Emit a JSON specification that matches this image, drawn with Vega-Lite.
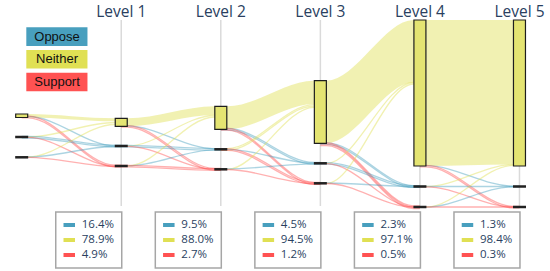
{
  "$schema": "https://vega.github.io/schema/vega-lite/v6.json",
  "width": 550,
  "height": 271,
  "padding": 0,
  "autosize": {"type": "none"},
  "background": "white",
  "config": {"view": {"stroke": null}},
  "datasets": {
    "levels": [
      {"level": 1, "label": "Level 1"},
      {"level": 2, "label": "Level 2"},
      {"level": 3, "label": "Level 3"},
      {"level": 4, "label": "Level 4"},
      {"level": 5, "label": "Level 5"}
    ],
    "bands": [
      {"t": 0, "x": 0, "y0": 114, "y1": 117.5}, {"t": 0, "x": 0.064, "y0": 114, "y1": 117.5}, {"t": 0, "x": 0.936, "y0": 118.3, "y1": 121.3}, {"t": 0, "x": 1, "y0": 118.3, "y1": 121.3},
      {"t": 1, "x": 1, "y0": 118.3, "y1": 126.3}, {"t": 1, "x": 1.064, "y0": 118.3, "y1": 126.3}, {"t": 1, "x": 1.936, "y0": 106.3, "y1": 115}, {"t": 1, "x": 2, "y0": 106.3, "y1": 115},
      {"t": 2, "x": 2, "y0": 106.3, "y1": 129.3}, {"t": 2, "x": 2.064, "y0": 106.3, "y1": 129.3}, {"t": 2, "x": 2.936, "y0": 80.7, "y1": 104}, {"t": 2, "x": 3, "y0": 80.7, "y1": 104},
      {"t": 3, "x": 3, "y0": 80.7, "y1": 143.3}, {"t": 3, "x": 3.064, "y0": 80.7, "y1": 143.3}, {"t": 3, "x": 3.936, "y0": 20, "y1": 82.6}, {"t": 3, "x": 4, "y0": 20, "y1": 82.6},
      {"t": 4, "x": 4, "y0": 20, "y1": 166}, {"t": 4, "x": 4.064, "y0": 20, "y1": 166}, {"t": 4, "x": 4.936, "y0": 20, "y1": 164.5}, {"t": 4, "x": 5, "y0": 20, "y1": 164.5}
    ],
    "links": [
      {"id": "l01", "cat": "Oppose", "i": 0, "x": 0, "y": 116.5}, {"id": "l01", "cat": "Oppose", "i": 1, "x": 0.064, "y": 116.5}, {"id": "l01", "cat": "Oppose", "i": 2, "x": 0.936, "y": 145.8}, {"id": "l01", "cat": "Oppose", "i": 3, "x": 1, "y": 145.8},
      {"id": "l02", "cat": "Support", "i": 0, "x": 0, "y": 116.2}, {"id": "l02", "cat": "Support", "i": 1, "x": 0.064, "y": 116.2}, {"id": "l02", "cat": "Support", "i": 2, "x": 0.936, "y": 165.2}, {"id": "l02", "cat": "Support", "i": 3, "x": 1, "y": 165.2},
      {"id": "l03", "cat": "Support", "i": 0, "x": 0, "y": 117.8}, {"id": "l03", "cat": "Support", "i": 1, "x": 0.064, "y": 117.8}, {"id": "l03", "cat": "Support", "i": 2, "x": 0.936, "y": 166.8}, {"id": "l03", "cat": "Support", "i": 3, "x": 1, "y": 166.8},
      {"id": "l04", "cat": "Neither", "i": 0, "x": 0, "y": 137}, {"id": "l04", "cat": "Neither", "i": 1, "x": 0.064, "y": 137}, {"id": "l04", "cat": "Neither", "i": 2, "x": 0.936, "y": 122.5}, {"id": "l04", "cat": "Neither", "i": 3, "x": 1, "y": 122.5},
      {"id": "l05", "cat": "Oppose", "i": 0, "x": 0, "y": 136.4}, {"id": "l05", "cat": "Oppose", "i": 1, "x": 0.064, "y": 136.4}, {"id": "l05", "cat": "Oppose", "i": 2, "x": 0.936, "y": 145.2}, {"id": "l05", "cat": "Oppose", "i": 3, "x": 1, "y": 145.2},
      {"id": "l06", "cat": "Oppose", "i": 0, "x": 0, "y": 138}, {"id": "l06", "cat": "Oppose", "i": 1, "x": 0.064, "y": 138}, {"id": "l06", "cat": "Oppose", "i": 2, "x": 0.936, "y": 146.8}, {"id": "l06", "cat": "Oppose", "i": 3, "x": 1, "y": 146.8},
      {"id": "l07", "cat": "Support", "i": 0, "x": 0, "y": 137.4}, {"id": "l07", "cat": "Support", "i": 1, "x": 0.064, "y": 137.4}, {"id": "l07", "cat": "Support", "i": 2, "x": 0.936, "y": 166}, {"id": "l07", "cat": "Support", "i": 3, "x": 1, "y": 166},
      {"id": "l08", "cat": "Neither", "i": 0, "x": 0, "y": 157}, {"id": "l08", "cat": "Neither", "i": 1, "x": 0.064, "y": 157}, {"id": "l08", "cat": "Neither", "i": 2, "x": 0.936, "y": 124.5}, {"id": "l08", "cat": "Neither", "i": 3, "x": 1, "y": 124.5},
      {"id": "l09", "cat": "Oppose", "i": 0, "x": 0, "y": 157}, {"id": "l09", "cat": "Oppose", "i": 1, "x": 0.064, "y": 157}, {"id": "l09", "cat": "Oppose", "i": 2, "x": 0.936, "y": 146.5}, {"id": "l09", "cat": "Oppose", "i": 3, "x": 1, "y": 146.5},
      {"id": "l10", "cat": "Support", "i": 0, "x": 0, "y": 157.3}, {"id": "l10", "cat": "Support", "i": 1, "x": 0.064, "y": 157.3}, {"id": "l10", "cat": "Support", "i": 2, "x": 0.936, "y": 166.5}, {"id": "l10", "cat": "Support", "i": 3, "x": 1, "y": 166.5},

      {"id": "l11", "cat": "Oppose", "i": 0, "x": 1, "y": 126}, {"id": "l11", "cat": "Oppose", "i": 1, "x": 1.064, "y": 126}, {"id": "l11", "cat": "Oppose", "i": 2, "x": 1.936, "y": 148.8}, {"id": "l11", "cat": "Oppose", "i": 3, "x": 2, "y": 148.8},
      {"id": "l12", "cat": "Support", "i": 0, "x": 1, "y": 125.6}, {"id": "l12", "cat": "Support", "i": 1, "x": 1.064, "y": 125.6}, {"id": "l12", "cat": "Support", "i": 2, "x": 1.936, "y": 168.5}, {"id": "l12", "cat": "Support", "i": 3, "x": 2, "y": 168.5},
      {"id": "l13", "cat": "Support", "i": 0, "x": 1, "y": 127.2}, {"id": "l13", "cat": "Support", "i": 1, "x": 1.064, "y": 127.2}, {"id": "l13", "cat": "Support", "i": 2, "x": 1.936, "y": 170.1}, {"id": "l13", "cat": "Support", "i": 3, "x": 2, "y": 170.1},
      {"id": "l14", "cat": "Neither", "i": 0, "x": 1, "y": 146}, {"id": "l14", "cat": "Neither", "i": 1, "x": 1.064, "y": 146}, {"id": "l14", "cat": "Neither", "i": 2, "x": 1.936, "y": 115.5}, {"id": "l14", "cat": "Neither", "i": 3, "x": 2, "y": 115.5},
      {"id": "l15", "cat": "Oppose", "i": 0, "x": 1, "y": 145.3}, {"id": "l15", "cat": "Oppose", "i": 1, "x": 1.064, "y": 145.3}, {"id": "l15", "cat": "Oppose", "i": 2, "x": 1.936, "y": 148.6}, {"id": "l15", "cat": "Oppose", "i": 3, "x": 2, "y": 148.6},
      {"id": "l16", "cat": "Oppose", "i": 0, "x": 1, "y": 146.9}, {"id": "l16", "cat": "Oppose", "i": 1, "x": 1.064, "y": 146.9}, {"id": "l16", "cat": "Oppose", "i": 2, "x": 1.936, "y": 150.2}, {"id": "l16", "cat": "Oppose", "i": 3, "x": 2, "y": 150.2},
      {"id": "l17", "cat": "Support", "i": 0, "x": 1, "y": 146.4}, {"id": "l17", "cat": "Support", "i": 1, "x": 1.064, "y": 146.4}, {"id": "l17", "cat": "Support", "i": 2, "x": 1.936, "y": 169.2}, {"id": "l17", "cat": "Support", "i": 3, "x": 2, "y": 169.2},
      {"id": "l18", "cat": "Neither", "i": 0, "x": 1, "y": 166}, {"id": "l18", "cat": "Neither", "i": 1, "x": 1.064, "y": 166}, {"id": "l18", "cat": "Neither", "i": 2, "x": 1.936, "y": 117}, {"id": "l18", "cat": "Neither", "i": 3, "x": 2, "y": 117},
      {"id": "l19", "cat": "Oppose", "i": 0, "x": 1, "y": 165.8}, {"id": "l19", "cat": "Oppose", "i": 1, "x": 1.064, "y": 165.8}, {"id": "l19", "cat": "Oppose", "i": 2, "x": 1.936, "y": 149.8}, {"id": "l19", "cat": "Oppose", "i": 3, "x": 2, "y": 149.8},
      {"id": "l20", "cat": "Support", "i": 0, "x": 1, "y": 165.3}, {"id": "l20", "cat": "Support", "i": 1, "x": 1.064, "y": 165.3}, {"id": "l20", "cat": "Support", "i": 2, "x": 1.936, "y": 168.7}, {"id": "l20", "cat": "Support", "i": 3, "x": 2, "y": 168.7},
      {"id": "l21", "cat": "Support", "i": 0, "x": 1, "y": 166.9}, {"id": "l21", "cat": "Support", "i": 1, "x": 1.064, "y": 166.9}, {"id": "l21", "cat": "Support", "i": 2, "x": 1.936, "y": 170.3}, {"id": "l21", "cat": "Support", "i": 3, "x": 2, "y": 170.3},

      {"id": "l22", "cat": "Oppose", "i": 0, "x": 2, "y": 128.5}, {"id": "l22", "cat": "Oppose", "i": 1, "x": 2.064, "y": 128.5}, {"id": "l22", "cat": "Oppose", "i": 2, "x": 2.936, "y": 162.5}, {"id": "l22", "cat": "Oppose", "i": 3, "x": 3, "y": 162.5},
      {"id": "l23", "cat": "Oppose", "i": 0, "x": 2, "y": 130.1}, {"id": "l23", "cat": "Oppose", "i": 1, "x": 2.064, "y": 130.1}, {"id": "l23", "cat": "Oppose", "i": 2, "x": 2.936, "y": 164.1}, {"id": "l23", "cat": "Oppose", "i": 3, "x": 3, "y": 164.1},
      {"id": "l24", "cat": "Support", "i": 0, "x": 2, "y": 128.5}, {"id": "l24", "cat": "Support", "i": 1, "x": 2.064, "y": 128.5}, {"id": "l24", "cat": "Support", "i": 2, "x": 2.936, "y": 182.5}, {"id": "l24", "cat": "Support", "i": 3, "x": 3, "y": 182.5},
      {"id": "l25", "cat": "Support", "i": 0, "x": 2, "y": 130.1}, {"id": "l25", "cat": "Support", "i": 1, "x": 2.064, "y": 130.1}, {"id": "l25", "cat": "Support", "i": 2, "x": 2.936, "y": 184.1}, {"id": "l25", "cat": "Support", "i": 3, "x": 3, "y": 184.1},
      {"id": "l26", "cat": "Neither", "i": 0, "x": 2, "y": 148.6}, {"id": "l26", "cat": "Neither", "i": 1, "x": 2.064, "y": 148.6}, {"id": "l26", "cat": "Neither", "i": 2, "x": 2.936, "y": 104.6}, {"id": "l26", "cat": "Neither", "i": 3, "x": 3, "y": 104.6},
      {"id": "l27", "cat": "Neither", "i": 0, "x": 2, "y": 150.2}, {"id": "l27", "cat": "Neither", "i": 1, "x": 2.064, "y": 150.2}, {"id": "l27", "cat": "Neither", "i": 2, "x": 2.936, "y": 106.2}, {"id": "l27", "cat": "Neither", "i": 3, "x": 3, "y": 106.2},
      {"id": "l28", "cat": "Oppose", "i": 0, "x": 2, "y": 149.3}, {"id": "l28", "cat": "Oppose", "i": 1, "x": 2.064, "y": 149.3}, {"id": "l28", "cat": "Oppose", "i": 2, "x": 2.936, "y": 163.2}, {"id": "l28", "cat": "Oppose", "i": 3, "x": 3, "y": 163.2},
      {"id": "l29", "cat": "Support", "i": 0, "x": 2, "y": 148.8}, {"id": "l29", "cat": "Support", "i": 1, "x": 2.064, "y": 148.8}, {"id": "l29", "cat": "Support", "i": 2, "x": 2.936, "y": 182.7}, {"id": "l29", "cat": "Support", "i": 3, "x": 3, "y": 182.7},
      {"id": "l30", "cat": "Support", "i": 0, "x": 2, "y": 150.4}, {"id": "l30", "cat": "Support", "i": 1, "x": 2.064, "y": 150.4}, {"id": "l30", "cat": "Support", "i": 2, "x": 2.936, "y": 184.3}, {"id": "l30", "cat": "Support", "i": 3, "x": 3, "y": 184.3},
      {"id": "l31", "cat": "Neither", "i": 0, "x": 2, "y": 169.3}, {"id": "l31", "cat": "Neither", "i": 1, "x": 2.064, "y": 169.3}, {"id": "l31", "cat": "Neither", "i": 2, "x": 2.936, "y": 107.4}, {"id": "l31", "cat": "Neither", "i": 3, "x": 3, "y": 107.4},
      {"id": "l32", "cat": "Oppose", "i": 0, "x": 2, "y": 169}, {"id": "l32", "cat": "Oppose", "i": 1, "x": 2.064, "y": 169}, {"id": "l32", "cat": "Oppose", "i": 2, "x": 2.936, "y": 163.8}, {"id": "l32", "cat": "Oppose", "i": 3, "x": 3, "y": 163.8},
      {"id": "l33", "cat": "Support", "i": 0, "x": 2, "y": 169.5}, {"id": "l33", "cat": "Support", "i": 1, "x": 2.064, "y": 169.5}, {"id": "l33", "cat": "Support", "i": 2, "x": 2.936, "y": 183.6}, {"id": "l33", "cat": "Support", "i": 3, "x": 3, "y": 183.6},

      {"id": "l34", "cat": "Oppose", "i": 0, "x": 3, "y": 142.8}, {"id": "l34", "cat": "Oppose", "i": 1, "x": 3.064, "y": 142.8}, {"id": "l34", "cat": "Oppose", "i": 2, "x": 3.936, "y": 185.7}, {"id": "l34", "cat": "Oppose", "i": 3, "x": 4, "y": 185.7},
      {"id": "l35", "cat": "Oppose", "i": 0, "x": 3, "y": 144.4}, {"id": "l35", "cat": "Oppose", "i": 1, "x": 3.064, "y": 144.4}, {"id": "l35", "cat": "Oppose", "i": 2, "x": 3.936, "y": 187.3}, {"id": "l35", "cat": "Oppose", "i": 3, "x": 4, "y": 187.3},
      {"id": "l36", "cat": "Support", "i": 0, "x": 3, "y": 142.8}, {"id": "l36", "cat": "Support", "i": 1, "x": 3.064, "y": 142.8}, {"id": "l36", "cat": "Support", "i": 2, "x": 3.936, "y": 205.8}, {"id": "l36", "cat": "Support", "i": 3, "x": 4, "y": 205.8},
      {"id": "l37", "cat": "Support", "i": 0, "x": 3, "y": 144.2}, {"id": "l37", "cat": "Support", "i": 1, "x": 3.064, "y": 144.2}, {"id": "l37", "cat": "Support", "i": 2, "x": 3.936, "y": 207.2}, {"id": "l37", "cat": "Support", "i": 3, "x": 4, "y": 207.2},
      {"id": "l38", "cat": "Support", "i": 0, "x": 3, "y": 145.6}, {"id": "l38", "cat": "Support", "i": 1, "x": 3.064, "y": 145.6}, {"id": "l38", "cat": "Support", "i": 2, "x": 3.936, "y": 208.6}, {"id": "l38", "cat": "Support", "i": 3, "x": 4, "y": 208.6},
      {"id": "l39", "cat": "Neither", "i": 0, "x": 3, "y": 163.3}, {"id": "l39", "cat": "Neither", "i": 1, "x": 3.064, "y": 163.3}, {"id": "l39", "cat": "Neither", "i": 2, "x": 3.936, "y": 82.5}, {"id": "l39", "cat": "Neither", "i": 3, "x": 4, "y": 82.5},
      {"id": "l40", "cat": "Oppose", "i": 0, "x": 3, "y": 162.6}, {"id": "l40", "cat": "Oppose", "i": 1, "x": 3.064, "y": 162.6}, {"id": "l40", "cat": "Oppose", "i": 2, "x": 3.936, "y": 185.8}, {"id": "l40", "cat": "Oppose", "i": 3, "x": 4, "y": 185.8},
      {"id": "l41", "cat": "Oppose", "i": 0, "x": 3, "y": 164.2}, {"id": "l41", "cat": "Oppose", "i": 1, "x": 3.064, "y": 164.2}, {"id": "l41", "cat": "Oppose", "i": 2, "x": 3.936, "y": 187.4}, {"id": "l41", "cat": "Oppose", "i": 3, "x": 4, "y": 187.4},
      {"id": "l42", "cat": "Support", "i": 0, "x": 3, "y": 163.6}, {"id": "l42", "cat": "Support", "i": 1, "x": 3.064, "y": 163.6}, {"id": "l42", "cat": "Support", "i": 2, "x": 3.936, "y": 207}, {"id": "l42", "cat": "Support", "i": 3, "x": 4, "y": 207},
      {"id": "l43", "cat": "Neither", "i": 0, "x": 3, "y": 183.3}, {"id": "l43", "cat": "Neither", "i": 1, "x": 3.064, "y": 183.3}, {"id": "l43", "cat": "Neither", "i": 2, "x": 3.936, "y": 84}, {"id": "l43", "cat": "Neither", "i": 3, "x": 4, "y": 84},
      {"id": "l44", "cat": "Oppose", "i": 0, "x": 3, "y": 183}, {"id": "l44", "cat": "Oppose", "i": 1, "x": 3.064, "y": 183}, {"id": "l44", "cat": "Oppose", "i": 2, "x": 3.936, "y": 186.5}, {"id": "l44", "cat": "Oppose", "i": 3, "x": 4, "y": 186.5},
      {"id": "l45", "cat": "Support", "i": 0, "x": 3, "y": 183.5}, {"id": "l45", "cat": "Support", "i": 1, "x": 3.064, "y": 183.5}, {"id": "l45", "cat": "Support", "i": 2, "x": 3.936, "y": 207.2}, {"id": "l45", "cat": "Support", "i": 3, "x": 4, "y": 207.2},

      {"id": "l46", "cat": "Oppose", "i": 0, "x": 4, "y": 165.6}, {"id": "l46", "cat": "Oppose", "i": 1, "x": 4.064, "y": 165.6}, {"id": "l46", "cat": "Oppose", "i": 2, "x": 4.936, "y": 186.2}, {"id": "l46", "cat": "Oppose", "i": 3, "x": 5, "y": 186.2},
      {"id": "l47", "cat": "Support", "i": 0, "x": 4, "y": 165.3}, {"id": "l47", "cat": "Support", "i": 1, "x": 4.064, "y": 165.3}, {"id": "l47", "cat": "Support", "i": 2, "x": 4.936, "y": 206.3}, {"id": "l47", "cat": "Support", "i": 3, "x": 5, "y": 206.3},
      {"id": "l48", "cat": "Support", "i": 0, "x": 4, "y": 166.9}, {"id": "l48", "cat": "Support", "i": 1, "x": 4.064, "y": 166.9}, {"id": "l48", "cat": "Support", "i": 2, "x": 4.936, "y": 207.9}, {"id": "l48", "cat": "Support", "i": 3, "x": 5, "y": 207.9},
      {"id": "l49", "cat": "Neither", "i": 0, "x": 4, "y": 186.5}, {"id": "l49", "cat": "Neither", "i": 1, "x": 4.064, "y": 186.5}, {"id": "l49", "cat": "Neither", "i": 2, "x": 4.936, "y": 164.6}, {"id": "l49", "cat": "Neither", "i": 3, "x": 5, "y": 164.6},
      {"id": "l50", "cat": "Oppose", "i": 0, "x": 4, "y": 186.5}, {"id": "l50", "cat": "Oppose", "i": 1, "x": 4.064, "y": 186.5}, {"id": "l50", "cat": "Oppose", "i": 2, "x": 4.936, "y": 186.5}, {"id": "l50", "cat": "Oppose", "i": 3, "x": 5, "y": 186.5},
      {"id": "l51", "cat": "Support", "i": 0, "x": 4, "y": 186.8}, {"id": "l51", "cat": "Support", "i": 1, "x": 4.064, "y": 186.8}, {"id": "l51", "cat": "Support", "i": 2, "x": 4.936, "y": 207}, {"id": "l51", "cat": "Support", "i": 3, "x": 5, "y": 207},
      {"id": "l52", "cat": "Neither", "i": 0, "x": 4, "y": 207}, {"id": "l52", "cat": "Neither", "i": 1, "x": 4.064, "y": 207}, {"id": "l52", "cat": "Neither", "i": 2, "x": 4.936, "y": 165.4}, {"id": "l52", "cat": "Neither", "i": 3, "x": 5, "y": 165.4},
      {"id": "l53", "cat": "Oppose", "i": 0, "x": 4, "y": 207}, {"id": "l53", "cat": "Oppose", "i": 1, "x": 4.064, "y": 207}, {"id": "l53", "cat": "Oppose", "i": 2, "x": 4.936, "y": 186.8}, {"id": "l53", "cat": "Oppose", "i": 3, "x": 5, "y": 186.8},
      {"id": "l54", "cat": "Support", "i": 0, "x": 4, "y": 207}, {"id": "l54", "cat": "Support", "i": 1, "x": 4.064, "y": 207}, {"id": "l54", "cat": "Support", "i": 2, "x": 4.936, "y": 207}, {"id": "l54", "cat": "Support", "i": 3, "x": 5, "y": 207}
    ],
    "nodesN": [
      {"level": 0, "y0": 114, "y1": 117.5},
      {"level": 1, "y0": 118.3, "y1": 126.3},
      {"level": 2, "y0": 106.3, "y1": 129.3},
      {"level": 3, "y0": 80.7, "y1": 143.3},
      {"level": 4, "y0": 20, "y1": 166},
      {"level": 5, "y0": 20, "y1": 166}
    ],
    "nodesOS": [
      {"level": 0, "cat": "Oppose", "y": 137}, {"level": 0, "cat": "Support", "y": 157.3},
      {"level": 1, "cat": "Oppose", "y": 146}, {"level": 1, "cat": "Support", "y": 166},
      {"level": 2, "cat": "Oppose", "y": 149.3}, {"level": 2, "cat": "Support", "y": 169.3},
      {"level": 3, "cat": "Oppose", "y": 163.3}, {"level": 3, "cat": "Support", "y": 183.3},
      {"level": 4, "cat": "Oppose", "y": 186.5}, {"level": 4, "cat": "Support", "y": 207},
      {"level": 5, "cat": "Oppose", "y": 186.5}, {"level": 5, "cat": "Support", "y": 207}
    ],
    "shares": [
      {"level": 1, "cat": "Oppose", "pct": 0.164}, {"level": 1, "cat": "Neither", "pct": 0.789}, {"level": 1, "cat": "Support", "pct": 0.049},
      {"level": 2, "cat": "Oppose", "pct": 0.095}, {"level": 2, "cat": "Neither", "pct": 0.880}, {"level": 2, "cat": "Support", "pct": 0.027},
      {"level": 3, "cat": "Oppose", "pct": 0.045}, {"level": 3, "cat": "Neither", "pct": 0.945}, {"level": 3, "cat": "Support", "pct": 0.012},
      {"level": 4, "cat": "Oppose", "pct": 0.023}, {"level": 4, "cat": "Neither", "pct": 0.971}, {"level": 4, "cat": "Support", "pct": 0.005},
      {"level": 5, "cat": "Oppose", "pct": 0.013}, {"level": 5, "cat": "Neither", "pct": 0.984}, {"level": 5, "cat": "Support", "pct": 0.003}
    ],
    "legend": [{"cat": "Oppose"}, {"cat": "Neither"}, {"cat": "Support"}]
  },
  "layer": [
    {
      "layer": [
        {
          "data": {"name": "levels"},
          "mark": {"type": "rule", "color": "#dadada", "strokeWidth": 1.5},
          "encoding": {
            "x": {"field": "level", "type": "quantitative", "scale": {"domain": [-0.16765, 5.2564], "nice": false, "zero": false}, "axis": null},
            "y": {"datum": 20, "type": "quantitative", "scale": {"domain": [0, 271], "reverse": true, "nice": false, "zero": false}, "axis": null},
            "y2": {"datum": 206}
          }
        },
        {
          "data": {"name": "bands"},
          "mark": {"type": "area", "interpolate": "monotone", "color": "#e0e054", "opacity": 0.45},
          "encoding": {
            "x": {"field": "x", "type": "quantitative", "scale": {"domain": [-0.16765, 5.2564], "nice": false, "zero": false}, "axis": null},
            "y": {"field": "y0", "type": "quantitative", "scale": {"domain": [0, 271], "reverse": true, "nice": false, "zero": false}, "axis": null},
            "y2": {"field": "y1"},
            "detail": {"field": "t", "type": "nominal"}
          }
        },
        {
          "data": {"name": "links"},
          "mark": {"type": "line", "interpolate": "monotone", "strokeWidth": 1.3, "opacity": 0.45},
          "encoding": {
            "x": {"field": "x", "type": "quantitative", "scale": {"domain": [-0.16765, 5.2564], "nice": false, "zero": false}, "axis": null},
            "y": {"field": "y", "type": "quantitative", "scale": {"domain": [0, 271], "reverse": true, "nice": false, "zero": false}, "axis": null},
            "color": {"field": "cat", "type": "nominal", "scale": {"domain": ["Oppose", "Neither", "Support"], "range": ["#489fbe", "#e0e054", "#ff5252"]}, "legend": null},
            "detail": {"field": "id", "type": "nominal"},
            "order": {"field": "i", "type": "quantitative"}
          }
        },
        {
          "data": {"name": "nodesN"},
          "mark": {"type": "bar", "orient": "vertical", "size": 12, "fill": "#e4e472", "stroke": "#1e1e1e", "strokeWidth": 1.2, "opacity": 1},
          "encoding": {
            "x": {"field": "level", "type": "quantitative", "scale": {"domain": [-0.16765, 5.2564], "nice": false, "zero": false}, "axis": null},
            "y": {"field": "y0", "type": "quantitative", "scale": {"domain": [0, 271], "reverse": true, "nice": false, "zero": false}, "axis": null},
            "y2": {"field": "y1"}
          }
        },
        {
          "data": {"name": "nodesOS"},
          "mark": {"type": "tick", "orient": "horizontal", "size": 13, "thickness": 2.5, "color": "#222222", "opacity": 1},
          "encoding": {
            "x": {"field": "level", "type": "quantitative", "scale": {"domain": [-0.16765, 5.2564], "nice": false, "zero": false}, "axis": null},
            "y": {"field": "y", "type": "quantitative", "scale": {"domain": [0, 271], "reverse": true, "nice": false, "zero": false}, "axis": null}
          }
        },
        {
          "data": {"name": "levels"},
          "mark": {"type": "rect", "xOffset": -65.5, "x2Offset": 0.5, "fill": "white", "stroke": "#a6a6a6", "strokeWidth": 1.5},
          "encoding": {
            "x": {"field": "level", "type": "quantitative", "scale": {"domain": [-0.16765, 5.2564], "nice": false, "zero": false}, "axis": null},
            "x2": {"field": "level"},
            "y": {"datum": 212, "type": "quantitative", "scale": {"domain": [0, 271], "reverse": true, "nice": false, "zero": false}, "axis": null},
            "y2": {"datum": 268}
          }
        },
        {
          "data": {"name": "levels"},
          "mark": {"type": "text", "font": "Open Sans", "fontSize": 15.5, "color": "#2a3f5f", "align": "center", "baseline": "alphabetic"},
          "encoding": {
            "x": {"field": "level", "type": "quantitative", "scale": {"domain": [-0.16765, 5.2564], "nice": false, "zero": false}, "axis": null},
            "y": {"datum": 17, "type": "quantitative", "scale": {"domain": [0, 271], "reverse": true, "nice": false, "zero": false}, "axis": null},
            "text": {"field": "label"}
          }
        }
      ]
    },
    {
      "layer": [
        {
          "data": {"name": "shares"},
          "mark": {"type": "tick", "orient": "horizontal", "size": 11.5, "thickness": 4, "xOffset": -52, "opacity": 1},
          "encoding": {
            "x": {"field": "level", "type": "quantitative", "scale": {"domain": [-0.16765, 5.2564], "nice": false, "zero": false}, "axis": null},
            "y": {"field": "cat", "type": "nominal", "scale": {"type": "point", "domain": ["Oppose", "Neither", "Support"], "range": [225, 255], "padding": 0}, "axis": null},
            "color": {"field": "cat", "type": "nominal", "scale": {"domain": ["Oppose", "Neither", "Support"], "range": ["#489fbe", "#e0e054", "#ff5252"]}, "legend": null}
          }
        },
        {
          "data": {"name": "shares"},
          "mark": {"type": "text", "align": "left", "baseline": "middle", "xOffset": -39.5, "font": "Open Sans", "fontSize": 11.5, "color": "#2a3f5f"},
          "encoding": {
            "x": {"field": "level", "type": "quantitative", "scale": {"domain": [-0.16765, 5.2564], "nice": false, "zero": false}, "axis": null},
            "y": {"field": "cat", "type": "nominal", "scale": {"type": "point", "domain": ["Oppose", "Neither", "Support"], "range": [225, 255], "padding": 0}, "axis": null},
            "text": {"field": "pct", "type": "quantitative", "format": ".1%"}
          }
        }
      ]
    },
    {
      "layer": [
        {
          "data": {"name": "legend"},
          "mark": {"type": "rect", "opacity": 1},
          "encoding": {
            "x": {"datum": 0.0464, "type": "quantitative", "scale": {"domain": [-0.16765, 5.2564], "nice": false, "zero": false}, "axis": null},
            "x2": {"datum": 0.6607},
            "y": {"field": "cat", "type": "nominal", "scale": {"type": "band", "domain": ["Oppose", "Neither", "Support"], "range": [27.3, 91.3], "paddingInner": 0.18, "paddingOuter": 0}, "axis": null},
            "color": {"field": "cat", "type": "nominal", "scale": {"domain": ["Oppose", "Neither", "Support"], "range": ["#489fbe", "#e0e054", "#ff5252"]}, "legend": null}
          }
        },
        {
          "data": {"name": "legend"},
          "mark": {"type": "text", "font": "Liberation Sans", "fontSize": 13, "color": "#111111", "align": "center", "baseline": "middle"},
          "encoding": {
            "x": {"datum": 0.355, "type": "quantitative", "scale": {"domain": [-0.16765, 5.2564], "nice": false, "zero": false}, "axis": null},
            "y": {"field": "cat", "type": "nominal", "scale": {"type": "band", "domain": ["Oppose", "Neither", "Support"], "range": [27.3, 91.3], "paddingInner": 0.18, "paddingOuter": 0}, "axis": null},
            "text": {"field": "cat"}
          }
        }
      ]
    }
  ],
  "resolve": {"scale": {"y": "independent"}}
}
